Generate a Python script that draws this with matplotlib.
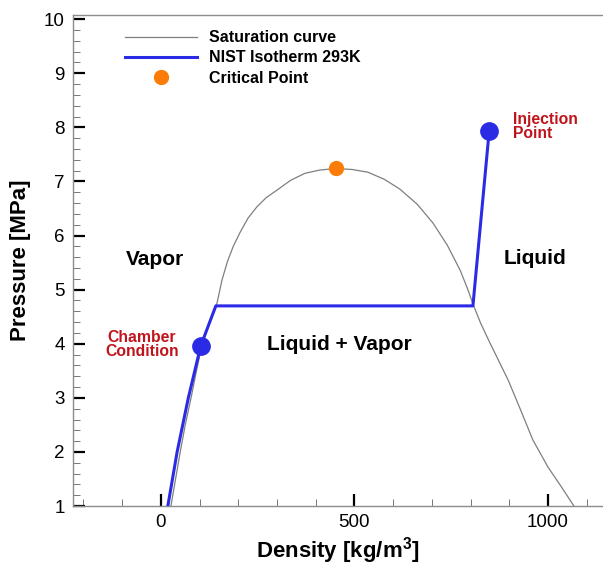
import matplotlib.pyplot as plt
from matplotlib.ticker import MultipleLocator

plt.rcParams['font.family'] = ['Liberation Sans', 'DejaVu Sans']
plt.rcParams['mathtext.default'] = 'regular'

# CO2 saturation dome (density kg/m3, pressure MPa)
sat_rho = [26, 38, 50, 63, 78, 92, 107, 124, 145, 158, 172, 187, 204, 225,
           248, 272, 300, 335, 372, 410, 452, 495, 535, 577, 617, 662, 703,
           740, 773, 792, 808, 826, 849, 873, 897, 929, 961, 1000, 1035, 1067]
sat_p = [1.0, 1.5, 2.0, 2.5, 3.0, 3.5, 4.0, 4.38, 4.75, 5.18, 5.52, 5.8, 6.05, 6.32,
         6.53, 6.7, 6.84, 7.02, 7.15, 7.21, 7.24, 7.22, 7.17, 7.04, 6.86, 6.58, 6.23,
         5.82, 5.36, 5.02, 4.7, 4.38, 4.03, 3.68, 3.33, 2.78, 2.22, 1.72, 1.35, 1.0]

# NIST isotherm at 293 K
iso_rho = [18, 42, 71, 103, 142, 806, 848]
iso_p = [1.0, 2.0, 3.0, 3.96, 4.70, 4.70, 7.93]

crit_rho, crit_p = 452, 7.24
chamber_rho, chamber_p = 103, 3.96
inject_rho, inject_p = 848, 7.93

fig = plt.figure(figsize=(6.03, 5.68), dpi=100)
ax = fig.add_axes([0.121, 0.109, 0.879, 0.864])

ax.plot(sat_rho, sat_p, color='#7f7f7f', lw=0.9, label='Saturation curve', zorder=2)
ax.plot(iso_rho, iso_p, color='#2b2be6', lw=2.2, label='NIST Isotherm 293K', zorder=3)
ax.plot([crit_rho], [crit_p], 'o', color='#fb7d07', ms=11, mec='none',
        label='Critical Point', zorder=4)
ax.plot([chamber_rho, inject_rho], [chamber_p, inject_p], 'o', color='#2b2be6',
        ms=13.5, mec='none', zorder=5)

txt = dict(fontsize=15, fontweight='bold', ha='center', va='center')
ax.text(-15, 5.55, 'Vapor', **txt)
ax.text(966, 5.57, 'Liquid', **txt)
ax.text(462, 3.98, 'Liquid + Vapor', **txt)
ax.text(-49, 3.98, 'Chamber\nCondition', color='#c0141c', fontsize=11.3,
        fontweight='bold', ha='center', va='center', linespacing=0.92)
ax.text(910, 8.02, 'Injection\nPoint', color='#c0141c', fontsize=11.3,
        fontweight='bold', ha='left', va='center', linespacing=0.92)

ax.set_xlim(-227, 1142)
ax.set_ylim(1, 10.07)
ax.xaxis.set_major_locator(MultipleLocator(500))
ax.xaxis.set_minor_locator(MultipleLocator(100))
ax.yaxis.set_major_locator(MultipleLocator(1))
ax.yaxis.set_minor_locator(MultipleLocator(0.2))
ax.tick_params(which='major', direction='in', length=8.5, width=1.6,
               color='black', labelsize=13.5, pad=6)
ax.tick_params(which='minor', direction='in', length=5, width=0.7, color='#777777')
ax.tick_params(top=False, right=False, which='both')

for side in ['left', 'bottom', 'top']:
    ax.spines[side].set_color('#8c8c8c')
    ax.spines[side].set_linewidth(1.0)
ax.spines['right'].set_visible(False)

ax.set_xlabel('Density [kg/m$^3$]', fontsize=16, fontweight='bold', labelpad=3)
ax.set_ylabel('Pressure [MPa]', fontsize=16, fontweight='bold', labelpad=9)

ax.legend(loc='upper left', bbox_to_anchor=(0.207, 0.947), bbox_transform=fig.transFigure,
          frameon=False, prop={'weight': 'bold', 'size': 11.5},
          handlelength=4.5, handletextpad=0.8, labelspacing=0.33,
          borderpad=0, borderaxespad=0)

fig.savefig('out.png', dpi=100)
